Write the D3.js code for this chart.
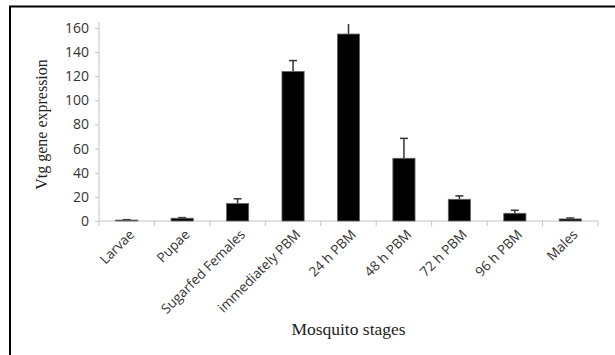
<!DOCTYPE html>
<html>
<head>
<meta charset="utf-8">
<script src="https://cdn.jsdelivr.net/npm/d3@7"></script>
<style>
  body { margin: 0; background: #fff; }
</style>
</head>
<body>
<script>
//chart data
var stages = ["Larvae", "Pupae", "Sugarfed Females", "immediately PBM", "24 h PBM", "48 h PBM", "72 h PBM", "96 h PBM", "Males"];
var expression = [0.8, 2.3, 14.5, 124, 155, 52, 18, 6.4, 1.7];
var errors = [0.3, 0.5, 3.9, 9, 10, 16.5, 2.8, 2.5, 0.8];
var yTicks = [0, 20, 40, 60, 80, 100, 120, 140, 160];

window.onload = function(){
    var w = 615, h = 355; //window size
    var left = 99, right = 598, top = 28, bottom = 221; //plot area

    var svg = d3.select("body")
        .append("svg")
        .attr("width", w)
        .attr("height", h);

    //frame round the figure (runs off right and bottom edges)
    svg.append("rect")
        .attr("x", 10)
        .attr("y", 6.5)
        .attr("width", 700)
        .attr("height", 500)
        .style("fill", "none")
        .style("stroke", "#000")
        .style("stroke-width", 2);

    var x = d3.scaleBand()
        .domain(stages)
        .range([left, right])
        .paddingInner(0.6)
        .paddingOuter(0.3);

    var y = d3.scaleLinear()
        .domain([0, 160])
        .range([bottom, top]);

    //y axis
    var yAxis = svg.append("g")
        .attr("transform", "translate(" + left + ",0)")
        .call(d3.axisLeft(y).tickValues(yTicks).tickSize(4).tickPadding(6).tickSizeOuter(0));
    yAxis.select(".domain").attr("d", "M0," + (y(0)) + "V" + (top - 6));

    //x axis: ticks at band boundaries
    var xAxis = svg.append("g")
        .attr("transform", "translate(0," + bottom + ")");
    xAxis.append("line")
        .attr("x1", left).attr("x2", right)
        .attr("class", "axisline");
    var bounds = d3.range(stages.length + 1).map(function(i){ return left + i * (right - left) / stages.length; });
    xAxis.selectAll(".xtick")
        .data(bounds)
        .enter()
        .append("line")
        .attr("class", "axisline")
        .attr("x1", function(d){ return d; })
        .attr("x2", function(d){ return d; })
        .attr("y1", 0)
        .attr("y2", 5);
    xAxis.selectAll(".xlabel")
        .data(stages)
        .enter()
        .append("text")
        .attr("class", "xlabel")
        .attr("transform", function(d){
            return "translate(" + (x(d) + x.bandwidth() / 2 + 5) + ",11) rotate(-45)";
        })
        .attr("text-anchor", "end")
        .attr("dy", "0.35em")
        .text(function(d){ return d; });

    svg.selectAll(".domain, .tick line, .axisline")
        .style("stroke", "#c4c4c4")
        .style("stroke-width", 1);
    svg.selectAll(".tick text")
        .style("font-family", "'Open Sans', sans-serif")
        .style("font-size", "14px")
        .style("fill", "#333");
    svg.selectAll(".xlabel")
        .style("font-family", "'Open Sans', sans-serif")
        .style("font-size", "13.5px")
        .style("fill", "#333");

    //clip for the error bars at the top of the plot
    svg.append("clipPath")
        .attr("id", "plotclip")
        .append("rect")
        .attr("x", left)
        .attr("y", top - 4)
        .attr("width", right - left)
        .attr("height", bottom - top + 4);

    //error bars (upper half only)
    var err = svg.append("g").attr("clip-path", "url(#plotclip)");
    err.selectAll(".errline")
        .data(stages)
        .enter()
        .append("line")
        .attr("x1", function(d){ return x(d) + x.bandwidth() / 2; })
        .attr("x2", function(d){ return x(d) + x.bandwidth() / 2; })
        .attr("y1", function(d, i){ return y(expression[i]); })
        .attr("y2", function(d, i){ return y(expression[i] + errors[i]); })
        .style("stroke", "#333")
        .style("stroke-width", 1.5);
    err.selectAll(".errcap")
        .data(stages)
        .enter()
        .append("line")
        .attr("x1", function(d){ return x(d) + x.bandwidth() / 2 - 4; })
        .attr("x2", function(d){ return x(d) + x.bandwidth() / 2 + 4; })
        .attr("y1", function(d, i){ return y(expression[i] + errors[i]); })
        .attr("y2", function(d, i){ return y(expression[i] + errors[i]); })
        .style("stroke", "#333")
        .style("stroke-width", 1.5);

    //bars
    svg.selectAll(".bar")
        .data(stages)
        .enter()
        .append("rect")
        .attr("class", "bar")
        .attr("x", function(d){ return x(d); })
        .attr("width", x.bandwidth())
        .attr("y", function(d, i){ return y(expression[i]); })
        .attr("height", function(d, i){ return y(0) - y(expression[i]); })
        .style("fill", "#000")
        .style("stroke", "#666")
        .style("stroke-width", 0.8);

    //axis titles
    svg.append("text")
        .attr("transform", "translate(47," + ((top + bottom) / 2) + ") rotate(-90)")
        .attr("text-anchor", "middle")
        .style("font-family", "'Liberation Serif', 'Times New Roman', serif")
        .style("font-size", "16px")
        .style("fill", "#222")
        .text("Vtg gene expression");

    svg.append("text")
        .attr("x", (left + right) / 2)
        .attr("y", 335)
        .attr("text-anchor", "middle")
        .style("font-family", "'Liberation Serif', 'Times New Roman', serif")
        .style("font-size", "17.5px")
        .style("fill", "#222")
        .text("Mosquito stages");
};
</script>
</body>
</html>
